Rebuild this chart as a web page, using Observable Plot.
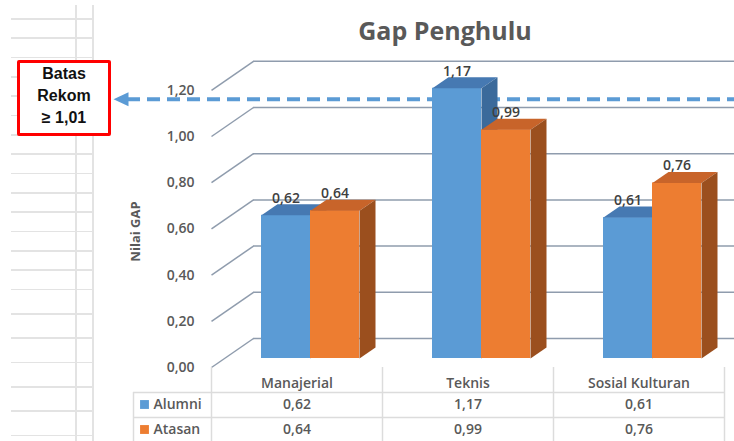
<!DOCTYPE html>
<html>
<head>
<meta charset="utf-8">
<script src="https://cdn.jsdelivr.net/npm/d3@7"></script>
<script src="https://cdn.jsdelivr.net/npm/@observablehq/plot@0.6"></script>
<style>
  body { margin: 0; background: #fff; }
  #wrap { position: relative; width: 734px; height: 441px; overflow: hidden; }
  #chart { position: absolute; left: 0; top: 0; }
  #sheet { position: absolute; left: 0; top: 0; width: 100px; height: 441px; }
  #sheet div { position: absolute; background: #e3e3e3; }
  .note {
    position: absolute; left: 17px; top: 60px; width: 88px; height: 70px;
    border: 3px solid #ff0000; border-radius: 2px; background: #fff;
    font-family: "Liberation Sans", Arial, sans-serif; font-weight: bold;
    font-size: 16px; line-height: 22px; text-align: center; color: #111;
    box-sizing: content-box;
  }
  .note span { display: block; }
</style>
</head>
<body>
<div id="wrap">
  <div id="chart"></div>
  <div id="sheet"></div>
  <div class="note"><span>Batas</span><span>Rekom</span><span>≥ 1,01</span></div>
</div>
<script>
// Chart data
const categories = ["Manajerial", "Teknis", "Sosial Kulturan"];
const series = ["Alumni", "Atasan"];
const alumni = [0.62, 1.17, 0.61];
const atasan = [0.64, 0.99, 0.76];
const yTicks = [0, 0.2, 0.4, 0.6, 0.8, 1.0, 1.2];
const batasRekom = 1.01;

// Layout
const W = 734, H = 441;
const ML = 211, MR = 10, MT = 80.8, MB = 83;
const YMAX = 1.2;
const COL = (W - ML - MR) / categories.length;   // px per category column
const UNIT = (H - MT - MB) / YMAX;                // px per value unit
const px = v => v / COL;                          // horizontal pixels -> x units
const py = v => v / UNIT;                         // vertical pixels -> y units

const BAR_OFFSET = 50, BAR_W = 49;                // bar placement inside a column
const DEPTH_X = 16, DEPTH_Y = 11;                 // bar depth
const WALL_X = 42, WALL_Y = 20, FLOOR_Y = 9;      // back wall / front floor edge

const colors = {
  Alumni: {front: "#5b9bd5", top: "#4679b2", side: "#3b6a9b"},
  Atasan: {front: "#ed7d31", top: "#c8642a", side: "#9b4f1e"}
};
const gridColor = "#8f9cad";
const tableColor = "#dcdcdc";
const textColor = "#595959";
const font = "'Open Sans', Lato, sans-serif";

const locale = d3.formatLocale({decimal: ",", thousands: ".", grouping: [3], currency: ["", ""]});
const fmt = locale.format(".2f");

// Bars table
const bars = [];
categories.forEach((c, i) => {
  [alumni[i], atasan[i]].forEach((v, s) => {
    const x1 = i + px(BAR_OFFSET + s * BAR_W);
    bars.push({category: c, series: series[s], value: v, x1, x2: x1 + px(BAR_W), i});
  });
});

// Face polygons of the 3D bars
function faces(name, kind) {
  const pts = [];
  bars.filter(b => b.series === name).forEach(b => {
    const dx = px(DEPTH_X), dy = py(DEPTH_Y), key = b.category;
    const poly = kind === "top"
      ? [[b.x1, b.value], [b.x2, b.value], [b.x2 + dx, b.value + dy], [b.x1 + dx, b.value + dy]]
      : [[b.x2, 0], [b.x2, b.value], [b.x2 + dx, b.value + dy], [b.x2 + dx, dy]];
    poly.forEach(([x, y]) => pts.push({key, x, y}));
  });
  return pts;
}

function barMarks(name) {
  const c = colors[name];
  return [
    Plot.rectY(bars.filter(b => b.series === name), {x1: "x1", x2: "x2", y1: 0, y2: "value", fill: c.front}),
    Plot.line(faces(name, "top"), {x: "x", y: "y", z: "key", fill: c.top, stroke: "none"}),
    Plot.line(faces(name, "side"), {x: "x", y: "y", z: "key", fill: c.side, stroke: "none"})
  ];
}

const rightEdge = px(W - ML);
const tableLeft = px(133 - ML);
const rowOffsets = [46, 71];   // table rows below the floor, px
const rowY = i => -py(rowOffsets[i]);
const rowLine = i => -py(rowOffsets[i] - 12);

const arrowHead = [
  {x: px(113 - ML), y: batasRekom},
  {x: px(128 - ML), y: batasRekom + py(7)},
  {x: px(128 - ML), y: batasRekom - py(7)}
];

const label = {fill: textColor, fontSize: 14, fontWeight: 600};

const chart = Plot.plot({
  width: W, height: H,
  marginLeft: ML, marginRight: MR, marginTop: MT, marginBottom: MB,
  x: {type: "linear", domain: [0, categories.length], axis: null},
  y: {type: "linear", domain: [0, YMAX], axis: null},
  style: {background: "transparent", fontFamily: font, overflow: "visible"},
  marks: [
    // back wall gridlines and their slanted ticks
    Plot.link(yTicks, {x1: 0, y1: d => d - py(FLOOR_Y), x2: px(WALL_X), y2: d => d + py(WALL_Y), stroke: gridColor, strokeWidth: 1.5}),
    Plot.ruleY(yTicks, {y: d => d + py(WALL_Y), x1: px(WALL_X), x2: rightEdge, stroke: gridColor, strokeWidth: 1.5}),
    Plot.text(yTicks, {x: 0, y: d => d, text: d => fmt(d), dx: -17, dy: FLOOR_Y, textAnchor: "end", ...label}),

    // recommended threshold
    Plot.ruleY([batasRekom], {x1: px(127 - ML), x2: rightEdge, dy: -26, stroke: "#5b9bd5", strokeWidth: 4, strokeDasharray: "13,7"}),
    Plot.line(arrowHead, {x: "x", y: "y", dy: -26, fill: "#5b9bd5", stroke: "none"}),

    // 3D bars
    ...barMarks("Alumni"),
    ...barMarks("Atasan"),
    Plot.text(bars, {x: d => (d.x1 + d.x2) / 2, y: "value", dy: -17, text: d => fmt(d.value), ...label, fill: "#404040"}),

    // axis title
    Plot.text(["Nilai GAP"], {x: px(135 - ML), y: py(H - MB - 231), rotate: -90, fontWeight: "bold", fontSize: 13, fill: textColor}),

    // data table
    Plot.ruleX(d3.range(categories.length + 1), {x: d => d, y1: -py(FLOOR_Y), y2: -py(MB), stroke: tableColor, strokeWidth: 1.5}),
    Plot.ruleY([0, 1], {y: rowLine, x1: tableLeft, x2: categories.length, stroke: tableColor, strokeWidth: 1.5}),
    Plot.ruleX([tableLeft], {x: d => d, y1: rowLine(0), y2: -py(MB), stroke: tableColor, strokeWidth: 1.5}),
    Plot.text(categories, {x: (d, i) => i + 0.5, y: 0, dy: 25, text: d => d, ...label}),
    Plot.text(alumni, {x: (d, i) => i + 0.5, y: rowY(0), text: d => fmt(d), ...label}),
    Plot.text(atasan, {x: (d, i) => i + 0.5, y: rowY(1), text: d => fmt(d), ...label}),
    Plot.dot(series, {x: 0, y: (d, i) => rowY(i), dx: -67, symbol: "square", r: 5, fill: d => colors[d].front, stroke: "none"}),
    Plot.text(series, {x: 0, y: (d, i) => rowY(i), dx: -58, text: d => d, textAnchor: "start", ...label}),

    // title
    Plot.text(["Gap Penghulu"], {frameAnchor: "top", dx: -23, dy: -59, fontSize: 25, fontWeight: "bold", fill: textColor})
  ]
});
document.getElementById("chart").appendChild(chart);

// spreadsheet cells behind the note box
const sheet = document.getElementById("sheet");
const sheetRows = [19, 38.3, 57.6, 77, 96.3, 115.6, 135, 154.3, 173.6, 193, 212.3, 231.6, 251, 270.3, 289.6, 314, 338.3, 362.6, 387, 411.3, 435.6];
sheetRows.forEach(y => {
  const d = document.createElement("div");
  Object.assign(d.style, {left: "11px", top: (y - 1) + "px", width: "83px", height: "1.5px"});
  sheet.appendChild(d);
});
[76, 93].forEach(x => {
  const d = document.createElement("div");
  Object.assign(d.style, {left: (x - 1) + "px", top: "5px", width: "1.5px", height: "436px"});
  sheet.appendChild(d);
});
</script>
</body>
</html>
